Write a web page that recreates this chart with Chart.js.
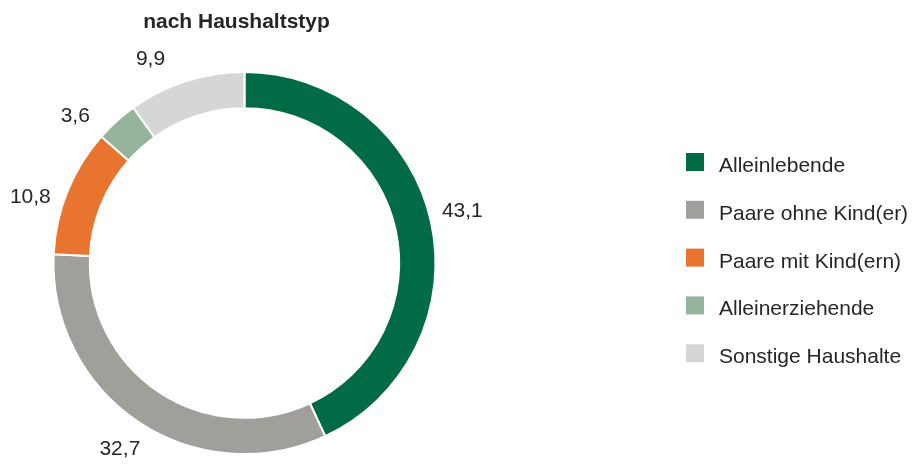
<!DOCTYPE html>
<html>
<head>
<meta charset="utf-8">
<script src="https://cdn.jsdelivr.net/npm/chart.js@4"></script>
<style>
  body { margin: 0; background: #fff; }
  #wrap { width: 913px; height: 464px; }
</style>
</head>
<body>
<div id="wrap"><canvas id="chart" width="913" height="464"></canvas></div>
<script>
// data (Anteile in %)
var categories = ["Alleinlebende", "Paare ohne Kind(er)", "Paare mit Kind(ern)", "Alleinerziehende", "Sonstige Haushalte"];
var shares = [43.1, 32.7, 10.8, 3.6, 9.9];
var colors = ["#006b45", "#a09f9a", "#e8742f", "#94b59b", "#d6d6d5"];
var title = "nach Haushaltstyp";

var FONT = "'Liberation Sans', Arial, sans-serif";
var TEXT = "#262626";

// small nudge (degrees) for the outside labels, like the original layout
var labelShift = [-1, 0, -5, -7, -7];

function fmt(v){
    return v.toFixed(1).replace(".", ",");
}

var drawExtras = {
    id: "drawExtras",
    afterDraw: function(chart){
        var ctx = chart.ctx;
        var meta = chart.getDatasetMeta(0);
        ctx.save();

        // title over the ring
        ctx.fillStyle = TEXT;
        ctx.font = "bold 21px " + FONT;
        ctx.textAlign = "center";
        ctx.textBaseline = "alphabetic";
        var cx = meta.data[0].x;
        ctx.fillText(title, cx - 8, 28);

        // value labels outside the ring
        ctx.font = "21px " + FONT;
        ctx.textBaseline = "middle";
        meta.data.forEach(function(arc, i){
            var mid = (arc.startAngle + arc.endAngle) / 2 + labelShift[i] * Math.PI / 180;
            var r = arc.outerRadius + 33;
            var x = arc.x + Math.cos(mid) * r;
            var y = arc.y + Math.sin(mid) * r;
            ctx.fillText(fmt(shares[i]), x, y);
        });

        // legend on the right
        var lx = 686, ly = 153, step = 47.8, box = 18;
        ctx.textAlign = "left";
        ctx.textBaseline = "alphabetic";
        categories.forEach(function(name, i){
            var y = ly + i * step;
            ctx.fillStyle = colors[i];
            ctx.fillRect(lx, y, box, box);
            ctx.fillStyle = TEXT;
            ctx.fillText(name, lx + 33, y + 19);
        });
        ctx.restore();
    }
};

var chart = new Chart(document.getElementById("chart"), {
    type: "doughnut",
    data: {
        labels: categories,
        datasets: [{
            data: shares,
            backgroundColor: colors,
            borderColor: "#ffffff",
            borderWidth: 2,
            hoverOffset: 0
        }]
    },
    options: {
        responsive: false,
        animation: false,
        cutout: "81%",
        layout: { padding: { left: 52.5, top: 71, right: 476.5, bottom: 9 } },
        plugins: {
            legend: { display: false },
            tooltip: { enabled: false }
        }
    },
    plugins: [drawExtras]
});
</script>
</body>
</html>
